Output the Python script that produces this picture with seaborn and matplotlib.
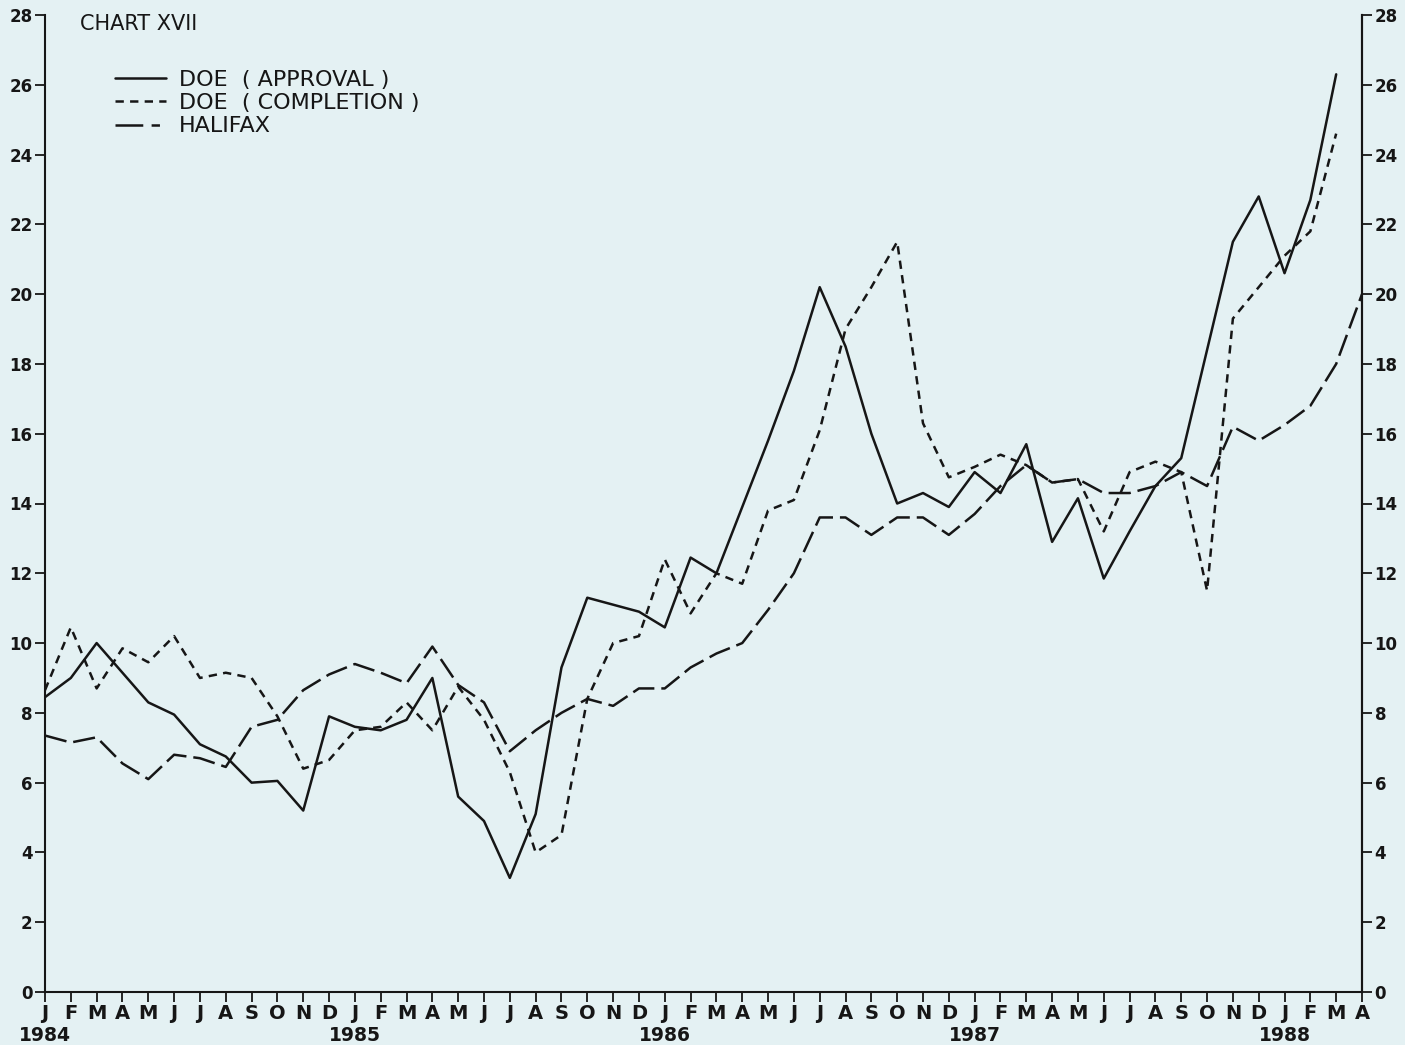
import numpy as np
import pandas as pd
import matplotlib
matplotlib.use("Agg")
import matplotlib.pyplot as plt
import seaborn as sns
from matplotlib.lines import Line2D

# Monthly index values, Jan 1984 - Apr 1988
months = ["J", "F", "M", "A", "M", "J", "J", "A", "S", "O", "N", "D"] * 4 + ["J", "F", "M", "A"]
years = {0: "1984", 12: "1985", 24: "1986", 36: "1987", 48: "1988"}

approval = [8.45, 9.0, 10.0, 9.15, 8.3, 7.95, 7.1, 6.75, 6.0, 6.05, 5.2, 7.9,
            7.6, 7.5, 7.8, 9.0, 5.6, 4.9, 3.27, 5.1, 9.3, 11.3, 11.1, 10.9,
            10.45, 12.45, 12.0, 13.9, 15.8, 17.8, 20.2, 18.5, 16.0, 14.0, 14.3, 13.9,
            14.9, 14.3, 15.7, 12.9, 14.15, 11.85, 13.2, 14.5, 15.3, 18.4, 21.5, 22.8,
            20.6, 22.7, 26.3, np.nan]

completion = [8.65, 10.45, 8.7, 9.85, 9.45, 10.2, 9.0, 9.15, 9.0, 7.9, 6.4, 6.65,
              7.5, 7.6, 8.3, 7.5, 8.75, 7.8, 6.3, 4.0, 4.5, 8.4, 10.0, 10.2,
              12.4, 10.85, 12.0, 11.7, 13.8, 14.1, 16.1, 19.0, 20.2, 21.5, 16.3, 14.75,
              15.05, 15.4, 15.1, 14.6, 14.7, 13.2, 14.9, 15.2, 14.9, 11.5, 19.3, 20.2,
              21.1, 21.8, 24.6, np.nan]

halifax = [7.35, 7.15, 7.3, 6.55, 6.1, 6.8, 6.7, 6.45, 7.6, 7.8, 8.65, 9.1,
           9.4, 9.15, 8.85, 9.9, 8.8, 8.3, 6.9, 7.5, 8.0, 8.4, 8.2, 8.7,
           8.7, 9.3, 9.7, 10.0, 10.95, 12.0, 13.6, 13.6, 13.1, 13.6, 13.6, 13.1,
           13.7, 14.5, 15.1, 14.6, 14.7, 14.3, 14.3, 14.5, 14.9, 14.5, 16.2, 15.8,
           16.25, 16.8, 18.0, 20.0]

labels = ["DOE  ( APPROVAL )", "DOE  ( COMPLETION )", "HALIFAX"]

sns.set_theme(style="ticks")
plt.rcParams["font.family"] = ["DejaVu Sans"]
plt.rcParams["lines.scale_dashes"] = False

BG = "#e4f1f3"
INK = "#161616"
NARROW = ["Liberation Sans Narrow", "DejaVu Sans"]

df = pd.DataFrame({"idx": np.arange(len(months)),
                   labels[0]: approval, labels[1]: completion, labels[2]: halifax})
long_df = df.melt(id_vars="idx", var_name="series", value_name="value").dropna()

fig = plt.figure(figsize=(14.05, 10.45), dpi=100, facecolor=BG)
ax = fig.add_axes([45 / 1405, 53 / 1045, (1362 - 45) / 1405, (992 - 15) / 1045])
ax.set_facecolor(BG)

dash_map = {labels[0]: "", labels[1]: (6, 4.5), labels[2]: (16, 5)}
sns.lineplot(data=long_df, x="idx", y="value", hue="series", style="series",
             hue_order=labels, style_order=labels,
             palette=[INK] * 3, dashes=dash_map, linewidth=1.8,
             legend=False, sort=False, ax=ax)

ax.set_xlim(0, len(months) - 1)
ax.set_ylim(0, 28)
ax.set_xlabel("")
ax.set_ylabel("")

# month letters on the ticks, year under each January
ax.set_xticks(range(len(months)))
ax.set_xticklabels(months, fontsize=14, fontweight="bold", family=NARROW)
for i, yr in years.items():
    ax.annotate(yr, xy=(i, 0), xycoords=("data", "axes fraction"),
                xytext=(0, -31), textcoords="offset points",
                ha="center", va="center", fontsize=13.5, fontweight="bold",
                family=NARROW, color=INK, annotation_clip=False)

yt = list(range(0, 29, 2))
ax.set_yticks(yt)
ax.set_yticklabels([str(v) for v in yt], fontsize=12, fontweight="bold", family=NARROW)
ax.tick_params(axis="both", direction="out", length=7, width=1.3, colors=INK, pad=2)
ax.tick_params(axis="x", pad=1.5)

for s in ["left", "bottom", "right"]:
    ax.spines[s].set_color(INK)
    ax.spines[s].set_linewidth(1.5)
ax.spines["top"].set_visible(False)

ax2 = ax.twinx()
ax2.set_ylim(0, 28)
ax2.set_yticks(yt)
ax2.set_yticklabels([str(v) for v in yt], fontsize=12, fontweight="bold", family=NARROW)
ax2.tick_params(axis="y", direction="out", length=7, width=1.3, colors=INK, pad=2)
for s in ["left", "top", "bottom"]:
    ax2.spines[s].set_visible(False)
ax2.spines["right"].set_color(INK)
ax2.spines["right"].set_linewidth(1.5)

handles = [
    Line2D([], [], color=INK, lw=1.8, linestyle="-"),
    Line2D([], [], color=INK, lw=1.8, linestyle=(0, (6, 4.5))),
    Line2D([], [], color=INK, lw=1.8, linestyle=(0, (20, 6, 6, 40))),
]
ax.legend(handles, labels, loc="upper left", bbox_to_anchor=(0.053, 0.944),
          frameon=False, fontsize=16, handlelength=2.3, handletextpad=0.6,
          labelspacing=0.15, borderaxespad=0, borderpad=0, labelcolor=INK)

fig.text(80 / 1405, 1 - 30 / 1045, "CHART XVII", fontsize=15, color=INK, va="baseline")

fig.savefig("out.png", dpi=100, facecolor=BG)
